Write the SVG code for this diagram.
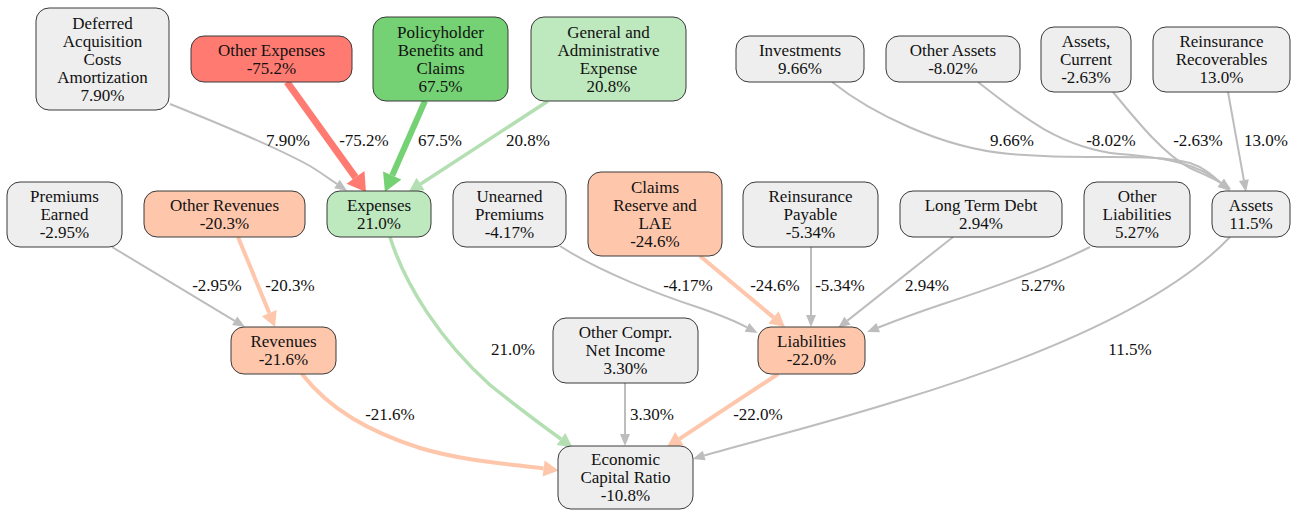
<svg xmlns="http://www.w3.org/2000/svg" width="1293" height="510" viewBox="0 0 1293 510" font-family="Liberation Serif, Times New Roman, serif" font-size="17">
<style>
text{fill:#111;text-anchor:middle}
.n rect{stroke:#3a3a3a;stroke-width:1}
.grey{fill:#eeeeee}.red{fill:#ff7b72}.green{fill:#74d174}.lgreen{fill:#bee8be}.peach{fill:#fec6ab}
.e{fill:none}
.eg{stroke:#bdbdbd;stroke-width:2}
.er{stroke:#ff7b72;stroke-width:7}
.egr{stroke:#74d174;stroke-width:6}
.elg{stroke:#b3dfb2;stroke-width:3.5}
.ep{stroke:#fec6ab;stroke-width:4}
</style>
<defs>
<marker id="ag" markerUnits="userSpaceOnUse" markerWidth="30" markerHeight="30" viewBox="-2 -15 30 30" refX="0" refY="0" orient="auto" overflow="visible"><path d="M0,-5 L12,0 L0,5 Z" fill="#bdbdbd"/></marker>
<marker id="ar" markerUnits="userSpaceOnUse" markerWidth="30" markerHeight="30" viewBox="-2 -15 30 30" refX="0" refY="0" orient="auto" overflow="visible"><path d="M0,-11 L18,0 L0,11 Z" fill="#ff7b72"/></marker>
<marker id="agr" markerUnits="userSpaceOnUse" markerWidth="30" markerHeight="30" viewBox="-2 -15 30 30" refX="0" refY="0" orient="auto" overflow="visible"><path d="M0,-10 L18,0 L0,10 Z" fill="#74d174"/></marker>
<marker id="alg" markerUnits="userSpaceOnUse" markerWidth="30" markerHeight="30" viewBox="-2 -15 30 30" refX="0" refY="0" orient="auto" overflow="visible"><path d="M0,-7.5 L14,0 L0,7.5 Z" fill="#b3dfb2"/></marker>
<marker id="ap" markerUnits="userSpaceOnUse" markerWidth="30" markerHeight="30" viewBox="-2 -15 30 30" refX="0" refY="0" orient="auto" overflow="visible"><path d="M0,-8 L15,0 L0,8 Z" fill="#fec6ab"/></marker>
</defs>

<g id="connectors">
<path class="e eg" marker-end="url(#ag)" d="M170,104 C230,128 285,152 310,166 C320,172 328,178 337,184"/>
<path class="e er" marker-end="url(#ar)" d="M287,82 L355.5,177.4"/>
<path class="e egr" marker-end="url(#agr)" d="M425,101 L392.2,175.5"/>
<path class="e elg" marker-end="url(#alg)" d="M548,101 L420.6,184"/>
<path class="e eg" marker-end="url(#ag)" d="M832,82 C870,112 940,148 1010,154 C1090,161 1150,152 1190,163 C1205,168 1213,176 1221,183"/>
<path class="e eg" marker-end="url(#ag)" d="M978,82 C1020,115 1060,148 1120,154 C1170,158 1200,165 1221,183"/>
<path class="e eg" marker-end="url(#ag)" d="M1113,92 C1140,125 1165,155 1190,168 C1205,175 1213,178 1221,183"/>
<path class="e eg" marker-end="url(#ag)" d="M1228,92 L1243.9,180.2"/>
<path class="e eg" marker-end="url(#ag)" d="M112,247 L234.7,320.8"/>
<path class="e ep" marker-end="url(#ap)" d="M238,237 L269.3,313.1"/>
<path class="e elg" marker-end="url(#alg)" d="M390,237 C405,285 440,340 490,385 C515,405 540,424 561,439"/>
<path class="e ep" marker-end="url(#ap)" d="M302,374 C330,410 370,432 420,448 C460,460 500,463 543.6,468.5"/>
<path class="e eg" marker-end="url(#ag)" d="M625,383 L625,434"/>
<path class="e ep" marker-end="url(#ap)" d="M778,374 L679.5,438.8"/>
<path class="e eg" marker-end="url(#ag)" d="M1230,237 C1180,290 1080,345 900,400 C810,428 750,442 704.2,455.5"/>
<path class="e eg" marker-end="url(#ag)" d="M560,246 C600,272 660,295 700,308 C720,315 735,321 747,327.4"/>
<path class="e ep" marker-end="url(#ap)" d="M700,256 L773.5,317.4"/>
<path class="e eg" marker-end="url(#ag)" d="M811,247 L811,315"/>
<path class="e eg" marker-end="url(#ag)" d="M953,237 L847.4,320.6"/>
<path class="e eg" marker-end="url(#ag)" d="M1090,247 C1040,272 980,292 940,305 C910,315 895,321 878.2,327.6"/>
<text x="288" y="146">7.90%</text>
<text x="364" y="146">-75.2%</text>
<text x="440" y="146">67.5%</text>
<text x="528" y="146">20.8%</text>
<text x="1012" y="146">9.66%</text>
<text x="1111" y="146">-8.02%</text>
<text x="1198" y="146">-2.63%</text>
<text x="1266" y="146">13.0%</text>
<text x="217" y="291">-2.95%</text>
<text x="290" y="291">-20.3%</text>
<text x="688" y="291">-4.17%</text>
<text x="775" y="291">-24.6%</text>
<text x="840" y="291">-5.34%</text>
<text x="927" y="291">2.94%</text>
<text x="1043" y="291">5.27%</text>
<text x="513" y="355">21.0%</text>
<text x="1130" y="355">11.5%</text>
<text x="390" y="420">-21.6%</text>
<text x="652" y="420">3.30%</text>
<text x="758" y="420">-22.0%</text>
</g>

<g id="dac" class="n"><rect class="grey" x="36" y="8" width="133" height="102" rx="13"/><text x="102.5" y="28.5">Deferred</text><text x="102.5" y="46.5">Acquisition</text><text x="102.5" y="64.5">Costs</text><text x="102.5" y="82.5">Amortization</text><text x="102.5" y="100.5">7.90%</text></g>
<g id="other-expenses" class="n"><rect class="red" x="191" y="36" width="161" height="46" rx="13"/><text x="271.5" y="55.5">Other Expenses</text><text x="271.5" y="73.5">-75.2%</text></g>
<g id="policyholder" class="n"><rect class="green" x="373" y="17" width="135" height="84" rx="13"/><text x="440.5" y="37.5">Policyholder</text><text x="440.5" y="55.5">Benefits and</text><text x="440.5" y="73.5">Claims</text><text x="440.5" y="91.5">67.5%</text></g>
<g id="gae" class="n"><rect class="lgreen" x="531" y="17" width="155" height="84" rx="13"/><text x="608.5" y="37.5">General and</text><text x="608.5" y="55.5">Administrative</text><text x="608.5" y="73.5">Expense</text><text x="608.5" y="91.5">20.8%</text></g>
<g id="investments" class="n"><rect class="grey" x="736" y="36" width="128" height="46" rx="13"/><text x="800" y="55.5">Investments</text><text x="800" y="73.5">9.66%</text></g>
<g id="other-assets" class="n"><rect class="grey" x="886" y="36" width="134" height="46" rx="13"/><text x="953" y="55.5">Other Assets</text><text x="953" y="73.5">-8.02%</text></g>
<g id="assets-current" class="n"><rect class="grey" x="1041" y="27" width="90" height="65" rx="13"/><text x="1086" y="47">Assets,</text><text x="1086" y="65">Current</text><text x="1086" y="83">-2.63%</text></g>
<g id="reins-rec" class="n"><rect class="grey" x="1153" y="27" width="137" height="65" rx="13"/><text x="1221.5" y="47">Reinsurance</text><text x="1221.5" y="65">Recoverables</text><text x="1221.5" y="83">13.0%</text></g>
<g id="premiums-earned" class="n"><rect class="grey" x="7" y="182" width="115" height="65" rx="13"/><text x="64.5" y="202">Premiums</text><text x="64.5" y="220">Earned</text><text x="64.5" y="238">-2.95%</text></g>
<g id="other-revenues" class="n"><rect class="peach" x="144" y="191" width="161" height="46" rx="13"/><text x="224.5" y="210.5">Other Revenues</text><text x="224.5" y="228.5">-20.3%</text></g>
<g id="expenses" class="n"><rect class="lgreen" x="327" y="191" width="104" height="46" rx="13"/><text x="379" y="210.5">Expenses</text><text x="379" y="228.5">21.0%</text></g>
<g id="unearned" class="n"><rect class="grey" x="453" y="182" width="113" height="65" rx="13"/><text x="509.5" y="202">Unearned</text><text x="509.5" y="220">Premiums</text><text x="509.5" y="238">-4.17%</text></g>
<g id="claims-reserve" class="n"><rect class="peach" x="588" y="172" width="134" height="84" rx="13"/><text x="655" y="192.5">Claims</text><text x="655" y="210.5">Reserve and</text><text x="655" y="228.5">LAE</text><text x="655" y="246.5">-24.6%</text></g>
<g id="reins-payable" class="n"><rect class="grey" x="743" y="182" width="135" height="65" rx="13"/><text x="810.5" y="202">Reinsurance</text><text x="810.5" y="220">Payable</text><text x="810.5" y="238">-5.34%</text></g>
<g id="long-term-debt" class="n"><rect class="grey" x="900" y="191" width="162" height="46" rx="13"/><text x="981" y="210.5">Long Term Debt</text><text x="981" y="228.5">2.94%</text></g>
<g id="other-liabilities" class="n"><rect class="grey" x="1084" y="182" width="106" height="65" rx="13"/><text x="1137" y="202">Other</text><text x="1137" y="220">Liabilities</text><text x="1137" y="238">5.27%</text></g>
<g id="assets" class="n"><rect class="grey" x="1212" y="191" width="78" height="46" rx="13"/><text x="1251" y="210.5">Assets</text><text x="1251" y="228.5">11.5%</text></g>
<g id="revenues" class="n"><rect class="peach" x="231" y="327" width="105" height="47" rx="13"/><text x="283.5" y="347">Revenues</text><text x="283.5" y="365">-21.6%</text></g>
<g id="other-compr" class="n"><rect class="grey" x="553" y="318" width="145" height="65" rx="13"/><text x="625.5" y="338">Other Compr.</text><text x="625.5" y="356">Net Income</text><text x="625.5" y="374">3.30%</text></g>
<g id="liabilities" class="n"><rect class="peach" x="758" y="327" width="107" height="47" rx="13"/><text x="811.5" y="347">Liabilities</text><text x="811.5" y="365">-22.0%</text></g>
<g id="ecr" class="n"><rect class="grey" x="558" y="446" width="135" height="63" rx="13"/><text x="625.5" y="465">Economic</text><text x="625.5" y="483">Capital Ratio</text><text x="625.5" y="501">-10.8%</text></g>
</svg>
